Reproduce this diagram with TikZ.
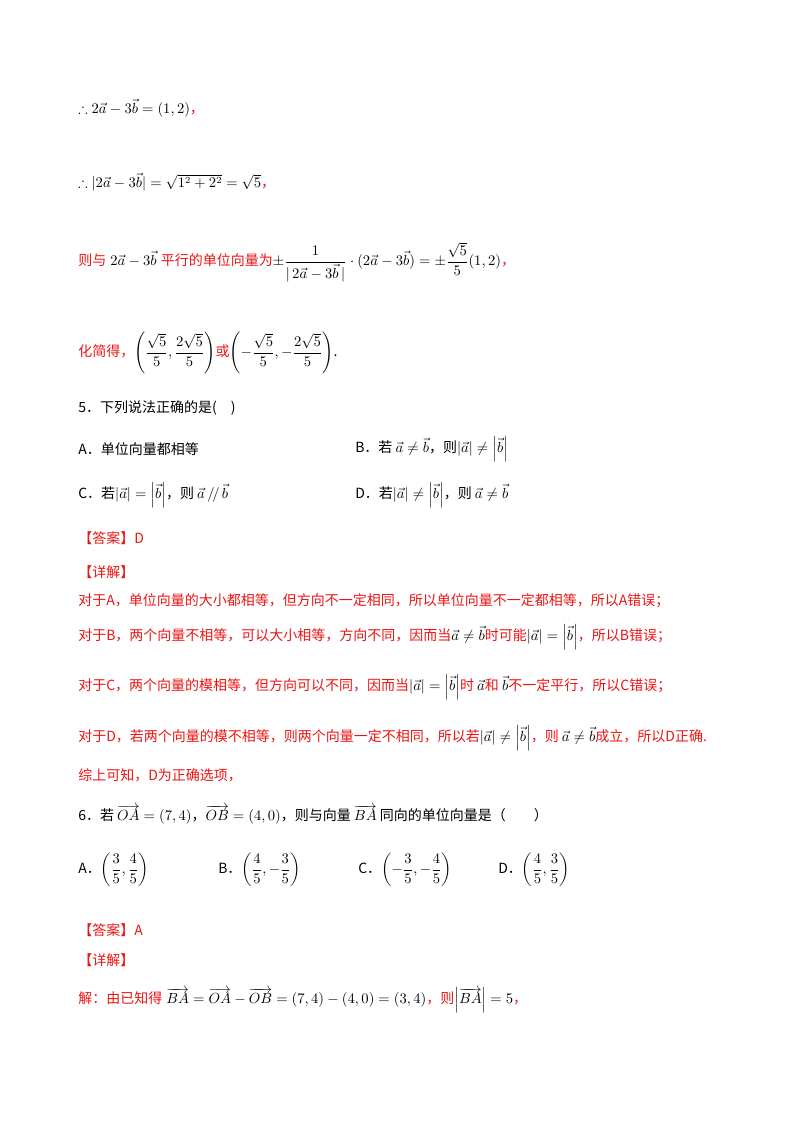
\documentclass[tikz,border=0pt]{standalone}
\usepackage{fontspec}
\usepackage{amsmath,amssymb}
\setmainfont{Noto Sans CJK SC}
\definecolor{ansred}{RGB}{235,20,20}
\newcommand{\R}[1]{\textcolor{ansred}{#1}}
\newcommand{\va}{\vec{a}}
\newcommand{\vb}{\vec{b}}
\begin{document}
\begin{tikzpicture}[x=0.75pt,y=-0.75pt,
  line/.style={anchor=west,inner sep=0pt,font=\fontsize{10.5}{12}\selectfont}]
\useasboundingbox (0,0) rectangle (800,1132);
\node[line] (l1) at (78,108) {$\therefore 2\va-3\vb=(1,2)$\R{，}};
\node[line] (l2) at (78,182) {$\therefore |2\va-3\vb|=\sqrt{1^2+2^2}=\sqrt5$\R{，}};
\node[line] (l3) at (78,262) {\R{则与}$\;2\va-3\vb\;$\R{平行的单位向量为}$\pm\dfrac{1}{|\,2\va-3\vb\,|}\cdot(2\va-3\vb)=\pm\dfrac{\sqrt5}{5}(1,2)$\R{，}};
\node[line] (l4) at (78,353) {\R{化简得，}$\left(\dfrac{\sqrt5}{5},\dfrac{2\sqrt5}{5}\right)$\R{或}$\left(-\dfrac{\sqrt5}{5},-\dfrac{2\sqrt5}{5}\right)$.};
\node[line] (q5) at (78,408) {5．下列说法正确的是(\quad)};
\node[line] (qA) at (78,449) {A．单位向量都相等};
\node[line] (qB) at (355,449) {B．若 $\va\ne\vb$，则$\left|\va\right|\ne\left|\vb\right|$};
\node[line] (qC) at (78,495) {C．若$\left|\va\right|=\left|\vb\right|$，则 $\va\,/\!/\,\vb$};
\node[line] (qD) at (355,495) {D．若$\left|\va\right|\ne\left|\vb\right|$，则 $\va\ne\vb$};
\node[line] (an5) at (78,538) {\R{【答案】D}};
\node[line] (dt5) at (78,572) {\R{【详解】}};
\node[line] (e1) at (78,601) {\R{对于A，单位向量的大小都相等，但方向不一定相同，所以单位向量不一定都相等，所以A错误；}};
\node[line] (e2) at (78,637) {\R{对于B，两个向量不相等，可以大小相等，方向不同，因而当}$\va\ne\vb$\R{时可能}$\left|\va\right|=\left|\vb\right|$\R{，所以B错误；}};
\node[line] (e3) at (78,687) {\R{对于C，两个向量的模相等，但方向可以不同，因而当}$\left|\va\right|=\left|\vb\right|$\R{时}~$\va$\R{和}~$\vb$\R{不一定平行，所以C错误；}};
\node[line] (e4) at (78,738) {\R{对于D，若两个向量的模不相等，则两个向量一定不相同，所以若}$\left|\va\right|\ne\left|\vb\right|$\R{，则}~$\va\ne\vb$\R{成立，所以D正确.}};
\node[line] (e5) at (78,775) {\R{综上可知，D为正确选项，}};
\node[line] (q6) at (78,815) {6．若 $\overrightarrow{OA}=(7,4)$，$\overrightarrow{OB}=(4,0)$，则与向量 $\overrightarrow{BA}$ 同向的单位向量是（\qquad）};
\node[line] (o1) at (78,870) {A．$\left(\dfrac35,\dfrac45\right)$};
\node[line] (o2) at (218,870) {B．$\left(\dfrac45,-\dfrac35\right)$};
\node[line] (o3) at (358,870) {C．$\left(-\dfrac35,-\dfrac45\right)$};
\node[line] (o4) at (498,870) {D．$\left(\dfrac45,\dfrac35\right)$};
\node[line] (an6) at (78,930) {\R{【答案】A}};
\node[line] (dt6) at (78,960) {\R{【详解】}};
\node[line] (s6) at (78,1000) {\R{解：由已知得}$\;\overrightarrow{BA}=\overrightarrow{OA}-\overrightarrow{OB}=(7,4)-(4,0)=(3,4)$\R{，则}$\left|\overrightarrow{BA}\right|=5$\R{，}};
\end{tikzpicture}
\end{document}
